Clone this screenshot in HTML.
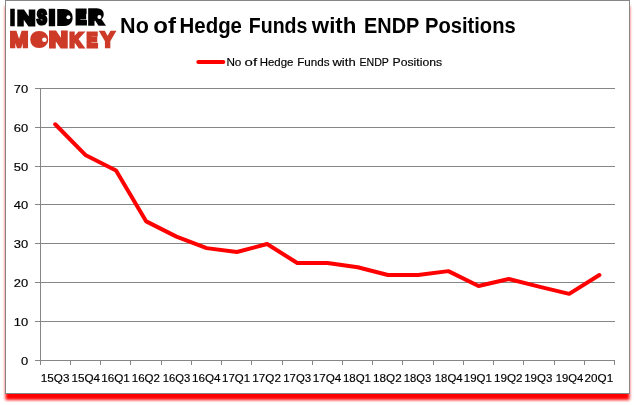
<!DOCTYPE html>
<html lang="en"><head><meta charset="utf-8"><title>No of Hedge Funds with ENDP Positions</title>
<style>
html,body{margin:0;padding:0;background:#fff;}
body{width:635px;height:405px;overflow:hidden;position:relative;font-family:"Liberation Sans",sans-serif;}
svg{position:absolute;left:0;top:0;}
text{font-family:"Liberation Sans",sans-serif;}
.ax{stroke:#868686;stroke-width:1;fill:none;shape-rendering:crispEdges;}
.lbl{font-size:10.4px;fill:#000;stroke:#000;stroke-width:0.15px;}
</style></head><body>
<svg width="635" height="405" viewBox="0 0 635 405">
<defs><filter id="blur" x="-5%" y="-5%" width="110%" height="110%"><feGaussianBlur stdDeviation="1.5"/></filter></defs>
<rect x="5.5" y="6" width="624" height="394" fill="#ff0000" filter="url(#blur)"/>
<rect x="5.5" y="0.5" width="624" height="393" fill="#fff" stroke="#868686" stroke-width="1"/>

<line class="ax" x1="35" y1="360.5" x2="615" y2="360.5"/>
<line class="ax" x1="35" y1="321.5" x2="615" y2="321.5"/>
<line class="ax" x1="35" y1="282.5" x2="615" y2="282.5"/>
<line class="ax" x1="35" y1="243.5" x2="615" y2="243.5"/>
<line class="ax" x1="35" y1="204.5" x2="615" y2="204.5"/>
<line class="ax" x1="35" y1="166.5" x2="615" y2="166.5"/>
<line class="ax" x1="35" y1="127.5" x2="615" y2="127.5"/>
<line class="ax" x1="35" y1="88.5" x2="615" y2="88.5"/>
<line class="ax" x1="40.5" y1="88" x2="40.5" y2="365"/>
<line class="ax" x1="70.5" y1="360" x2="70.5" y2="365"/>
<line class="ax" x1="100.5" y1="360" x2="100.5" y2="365"/>
<line class="ax" x1="130.5" y1="360" x2="130.5" y2="365"/>
<line class="ax" x1="161.5" y1="360" x2="161.5" y2="365"/>
<line class="ax" x1="191.5" y1="360" x2="191.5" y2="365"/>
<line class="ax" x1="221.5" y1="360" x2="221.5" y2="365"/>
<line class="ax" x1="251.5" y1="360" x2="251.5" y2="365"/>
<line class="ax" x1="282.5" y1="360" x2="282.5" y2="365"/>
<line class="ax" x1="312.5" y1="360" x2="312.5" y2="365"/>
<line class="ax" x1="342.5" y1="360" x2="342.5" y2="365"/>
<line class="ax" x1="372.5" y1="360" x2="372.5" y2="365"/>
<line class="ax" x1="402.5" y1="360" x2="402.5" y2="365"/>
<line class="ax" x1="433.5" y1="360" x2="433.5" y2="365"/>
<line class="ax" x1="463.5" y1="360" x2="463.5" y2="365"/>
<line class="ax" x1="493.5" y1="360" x2="493.5" y2="365"/>
<line class="ax" x1="523.5" y1="360" x2="523.5" y2="365"/>
<line class="ax" x1="554.5" y1="360" x2="554.5" y2="365"/>
<line class="ax" x1="584.5" y1="360" x2="584.5" y2="365"/>
<line class="ax" x1="614.5" y1="360" x2="614.5" y2="365"/>
<text class="lbl" x="28.2" y="364.5" text-anchor="end" textLength="7.2" lengthAdjust="spacingAndGlyphs">0</text>
<text class="lbl" x="28.2" y="325.5" text-anchor="end" textLength="14.4" lengthAdjust="spacingAndGlyphs">10</text>
<text class="lbl" x="28.2" y="286.5" text-anchor="end" textLength="14.4" lengthAdjust="spacingAndGlyphs">20</text>
<text class="lbl" x="28.2" y="247.5" text-anchor="end" textLength="14.4" lengthAdjust="spacingAndGlyphs">30</text>
<text class="lbl" x="28.2" y="208.5" text-anchor="end" textLength="14.4" lengthAdjust="spacingAndGlyphs">40</text>
<text class="lbl" x="28.2" y="170.5" text-anchor="end" textLength="14.4" lengthAdjust="spacingAndGlyphs">50</text>
<text class="lbl" x="28.2" y="131.5" text-anchor="end" textLength="14.4" lengthAdjust="spacingAndGlyphs">60</text>
<text class="lbl" x="28.2" y="92.5" text-anchor="end" textLength="14.4" lengthAdjust="spacingAndGlyphs">70</text>
<text class="lbl" x="40.8" y="382" textLength="28.6" lengthAdjust="spacingAndGlyphs">15Q3</text>
<text class="lbl" x="71.4" y="382" textLength="28.6" lengthAdjust="spacingAndGlyphs">15Q4</text>
<text class="lbl" x="101.2" y="382" textLength="28.6" lengthAdjust="spacingAndGlyphs">16Q1</text>
<text class="lbl" x="131.8" y="382" textLength="28.2" lengthAdjust="spacingAndGlyphs">16Q2</text>
<text class="lbl" x="162.7" y="382" textLength="27.5" lengthAdjust="spacingAndGlyphs">16Q3</text>
<text class="lbl" x="191.9" y="382" textLength="28.6" lengthAdjust="spacingAndGlyphs">16Q4</text>
<text class="lbl" x="222.1" y="382" textLength="28.0" lengthAdjust="spacingAndGlyphs">17Q1</text>
<text class="lbl" x="252.3" y="382" textLength="28.6" lengthAdjust="spacingAndGlyphs">17Q2</text>
<text class="lbl" x="283.3" y="382" textLength="27.8" lengthAdjust="spacingAndGlyphs">17Q3</text>
<text class="lbl" x="312.7" y="382" textLength="28.6" lengthAdjust="spacingAndGlyphs">17Q4</text>
<text class="lbl" x="342.9" y="382" textLength="28.1" lengthAdjust="spacingAndGlyphs">18Q1</text>
<text class="lbl" x="373.1" y="382" textLength="28.6" lengthAdjust="spacingAndGlyphs">18Q2</text>
<text class="lbl" x="403.7" y="382" textLength="27.6" lengthAdjust="spacingAndGlyphs">18Q3</text>
<text class="lbl" x="434.8" y="382" textLength="27.8" lengthAdjust="spacingAndGlyphs">18Q4</text>
<text class="lbl" x="463.8" y="382" textLength="28.1" lengthAdjust="spacingAndGlyphs">19Q1</text>
<text class="lbl" x="494.0" y="382" textLength="28.6" lengthAdjust="spacingAndGlyphs">19Q2</text>
<text class="lbl" x="524.2" y="382" textLength="28.1" lengthAdjust="spacingAndGlyphs">19Q3</text>
<text class="lbl" x="555.7" y="382" textLength="27.5" lengthAdjust="spacingAndGlyphs">19Q4</text>
<text class="lbl" x="584.6" y="382" textLength="28.6" lengthAdjust="spacingAndGlyphs">20Q1</text>
<polyline points="55.21,124.27 85.82,155.31 116.03,170.50 146.24,221.41 176.45,236.66 206.66,248.11 236.87,252.00 267.08,244.03 297.29,263.01 327.50,263.01 357.71,267.24 387.92,275.01 418.13,275.01 448.34,271.13 478.55,285.97 508.76,279.00 538.97,286.67 569.18,293.84 599.39,275.01" fill="none" stroke="#ff0000" stroke-width="4.0" stroke-linecap="round" stroke-linejoin="round"/>
<line x1="198.3" y1="62" x2="223.3" y2="62" stroke="#ff0000" stroke-width="4" stroke-linecap="round"/>
<text class="lbl" y="65.6" style="font-size:10.6px"><tspan x="226.4" textLength="15.0" lengthAdjust="spacingAndGlyphs">No</tspan> <tspan x="244.6" textLength="12.5" lengthAdjust="spacingAndGlyphs">of</tspan> <tspan x="259.7" textLength="33.7" lengthAdjust="spacingAndGlyphs">Hedge</tspan> <tspan x="297.2" textLength="32.4" lengthAdjust="spacingAndGlyphs">Funds</tspan> <tspan x="332.4" textLength="23.3" lengthAdjust="spacingAndGlyphs">with</tspan> <tspan x="359.4" textLength="29.3" lengthAdjust="spacingAndGlyphs">ENDP</tspan> <tspan x="392.6" textLength="49.5" lengthAdjust="spacingAndGlyphs">Positions</tspan> </text>
<text y="32.6" style="font-size:21.8px;font-weight:bold" fill="#000"><tspan x="120.1" textLength="28.7" lengthAdjust="spacingAndGlyphs">No</tspan> <tspan x="153.3" textLength="22.7" lengthAdjust="spacingAndGlyphs">of</tspan> <tspan x="179.5" textLength="62.5" lengthAdjust="spacingAndGlyphs">Hedge</tspan> <tspan x="248.8" textLength="58.6" lengthAdjust="spacingAndGlyphs">Funds</tspan> <tspan x="311.8" textLength="44.6" lengthAdjust="spacingAndGlyphs">with</tspan> <tspan x="364.0" textLength="54.9" lengthAdjust="spacingAndGlyphs">ENDP</tspan> <tspan x="425.0" textLength="90.7" lengthAdjust="spacingAndGlyphs">Positions</tspan> </text>
<g role="img" aria-label="INSIDER MONKEY">
<text fill="#000" stroke="#000" stroke-linejoin="miter" style="font-weight:bold"><tspan x="10.09" y="24.80" textLength="5.01" lengthAdjust="spacingAndGlyphs" stroke-width="2.4" stroke-linejoin="miter" style="font-size:21.51px">I</tspan><tspan x="17.23" y="24.60" textLength="18.06" lengthAdjust="spacingAndGlyphs" stroke-width="2.8" stroke-linejoin="miter" style="font-size:20.93px">N</tspan><tspan x="37.08" y="24.21" textLength="9.80" lengthAdjust="spacingAndGlyphs" stroke-width="3.2" stroke-linejoin="miter" style="font-size:19.77px">S</tspan><tspan x="48.53" y="24.80" textLength="6.94" lengthAdjust="spacingAndGlyphs" stroke-width="2.4" stroke-linejoin="miter" style="font-size:21.51px">I</tspan><tspan x="57.96" y="23.90" textLength="13.42" lengthAdjust="spacingAndGlyphs" stroke-width="4.2" stroke-linejoin="miter" style="font-size:18.90px">D</tspan><tspan x="75.74" y="24.40" textLength="10.58" lengthAdjust="spacingAndGlyphs" stroke-width="3.2" stroke-linejoin="miter" style="font-size:20.35px">E</tspan><tspan x="88.64" y="24.30" textLength="14.68" lengthAdjust="spacingAndGlyphs" stroke-width="3.4" stroke-linejoin="miter" style="font-size:20.06px">R</tspan></text>
<ellipse cx="65" cy="17.4" rx="3.6" ry="5" fill="#000"/><circle cx="68.4" cy="17.3" r="2" fill="#fff"/><rect x="92" y="12" width="9" height="6.5" fill="#000"/><circle cx="99.4" cy="17.1" r="2" fill="#fff"/>
<text fill="#cd3a28" stroke="#cd3a28" stroke-linejoin="miter" style="font-weight:bold"><tspan x="9.71" y="47.10" textLength="18.58" lengthAdjust="spacingAndGlyphs" stroke-width="2.4" stroke-linejoin="miter" style="font-size:21.80px">M</tspan><tspan x="31.49" y="46.12" textLength="15.45" lengthAdjust="spacingAndGlyphs" stroke-width="4.0" stroke-linejoin="round" style="font-size:18.93px">O</tspan><tspan x="49.06" y="46.90" textLength="18.79" lengthAdjust="spacingAndGlyphs" stroke-width="2.8" stroke-linejoin="miter" style="font-size:21.22px">N</tspan><tspan x="69.57" y="46.80" textLength="13.30" lengthAdjust="spacingAndGlyphs" stroke-width="3.0" stroke-linejoin="miter" style="font-size:20.93px">K</tspan><tspan x="86.63" y="46.70" textLength="10.70" lengthAdjust="spacingAndGlyphs" stroke-width="3.2" stroke-linejoin="miter" style="font-size:20.64px">E</tspan><tspan x="100.44" y="47.10" textLength="14.21" lengthAdjust="spacingAndGlyphs" stroke-width="2.4" stroke-linejoin="miter" style="font-size:21.80px">Y</tspan></text>
<circle cx="39.2" cy="39.6" r="5" fill="#cd3a28"/><circle cx="44.4" cy="39.7" r="2.3" fill="#fff"/>
</g>
</svg></body></html>
